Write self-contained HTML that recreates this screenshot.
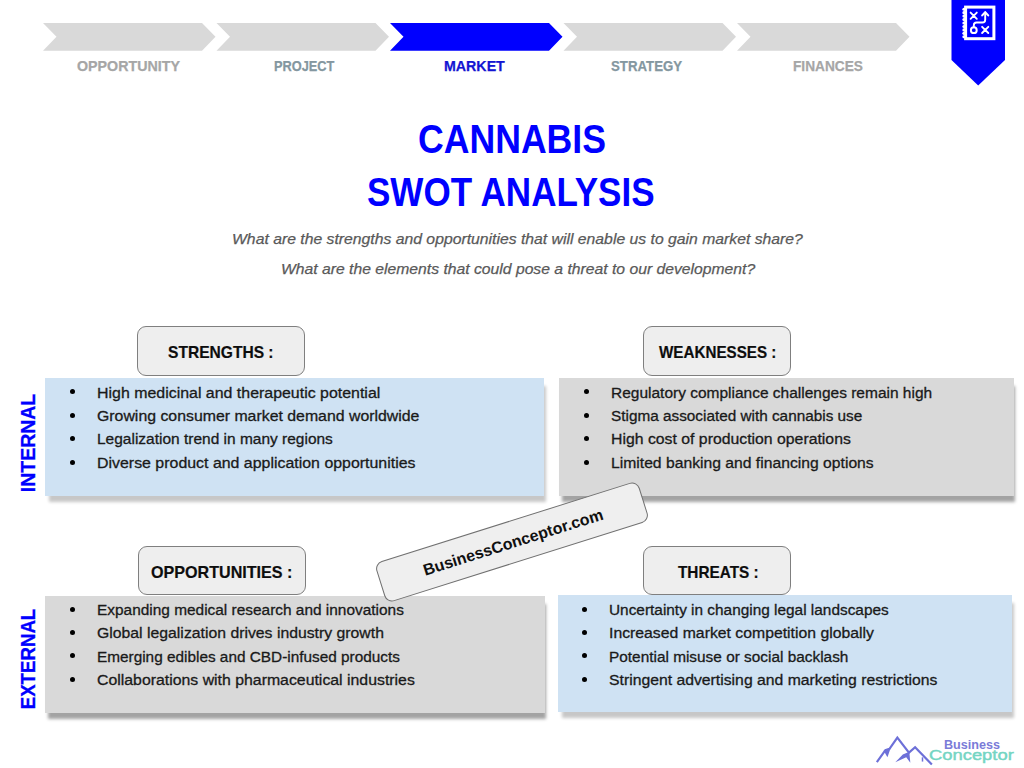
<!DOCTYPE html>
<html><head><meta charset="utf-8"><title>Cannabis SWOT Analysis</title>
<style>
html,body{margin:0;padding:0;background:#fff;}
body{width:1024px;height:768px;position:relative;overflow:hidden;font-family:"Liberation Sans",sans-serif;}
.t{position:absolute;white-space:nowrap;line-height:1;transform-origin:0 0;font-family:"Liberation Sans",sans-serif;}
.box{position:absolute;}
.hd{position:absolute;box-sizing:border-box;background:#eeeeee;border:1.3px solid #7f7f7f;border-radius:9px;}
.dot{position:absolute;width:5px;height:5px;border-radius:50%;background:#000;}
</style></head><body>

<svg width="1024" height="100" style="position:absolute;left:0;top:0"><polygon points="43,23.0 202.0,23.0 215.5,36.85 202.0,50.7 43,50.7 56.5,36.85" fill="#d9d9d9"/><polygon points="216.5,23.0 375.5,23.0 389.0,36.85 375.5,50.7 216.5,50.7 230.0,36.85" fill="#d9d9d9"/><polygon points="390,23.0 549.0,23.0 562.5,36.85 549.0,50.7 390,50.7 403.5,36.85" fill="#0000ff"/><polygon points="563.5,23.0 722.5,23.0 736.0,36.85 722.5,50.7 563.5,50.7 577.0,36.85" fill="#d9d9d9"/><polygon points="737,23.0 896.0,23.0 909.5,36.85 896.0,50.7 737,50.7 750.5,36.85" fill="#d9d9d9"/><polygon points="951.5,0 1005,0 1005,60 978.2,85.5 951.5,60" fill="#0000ff"/></svg>
<div class="box" style="left:45.2px;top:378px;width:499.2px;height:117.80000000000001px;background:#cfe2f3;box-shadow:3px 7px 3px -1px rgba(0,0,0,0.22)"></div>
<div class="box" style="left:559.2px;top:378px;width:455.19999999999993px;height:117.80000000000001px;background:#d9d9d9;box-shadow:2px 7px 3px -1px rgba(0,0,0,0.36)"></div>
<div class="box" style="left:44.8px;top:595.6px;width:500.2px;height:117.39999999999998px;background:#d9d9d9;box-shadow:2px 7px 3px -1px rgba(0,0,0,0.36)"></div>
<div class="box" style="left:557.9px;top:595.4px;width:454.1px;height:117.0px;background:#cfe2f3;box-shadow:3px 7px 3px -1px rgba(0,0,0,0.22)"></div>
<div class="hd" style="left:137.2px;top:326.3px;width:168.3px;height:49.599999999999966px"></div>
<div class="hd" style="left:642.7px;top:326.3px;width:148.0px;height:49.599999999999966px"></div>
<div class="hd" style="left:137.6px;top:545.7px;width:168.29999999999998px;height:49.5px"></div>
<div class="hd" style="left:643.3px;top:545.5px;width:148.20000000000005px;height:49.700000000000045px"></div>
<div class="dot" style="left:69.70px;top:389.30px"></div>
<div class="dot" style="left:69.70px;top:412.73px"></div>
<div class="dot" style="left:69.70px;top:436.16px"></div>
<div class="dot" style="left:69.70px;top:459.59px"></div>
<div class="dot" style="left:583.50px;top:389.30px"></div>
<div class="dot" style="left:583.50px;top:412.73px"></div>
<div class="dot" style="left:583.50px;top:436.16px"></div>
<div class="dot" style="left:583.50px;top:459.59px"></div>
<div class="dot" style="left:69.70px;top:606.50px"></div>
<div class="dot" style="left:69.70px;top:629.93px"></div>
<div class="dot" style="left:69.70px;top:653.36px"></div>
<div class="dot" style="left:69.70px;top:676.79px"></div>
<div class="dot" style="left:582.00px;top:606.50px"></div>
<div class="dot" style="left:582.00px;top:629.93px"></div>
<div class="dot" style="left:582.00px;top:653.36px"></div>
<div class="dot" style="left:582.00px;top:676.79px"></div>
<div class="t" style="left:77.35px;top:58.2px;font-size:15px;font-weight:bold;font-style:normal;color:#a6a6a6;transform:scaleX(0.9505);-webkit-text-stroke:0.25px #a6a6a6">OPPORTUNITY</div>
<div class="t" style="left:274.35px;top:58.0px;font-size:15px;font-weight:bold;font-style:normal;color:#8497a0;transform:scaleX(0.8529);-webkit-text-stroke:0.25px #8497a0">PROJECT</div>
<div class="t" style="left:444.35px;top:58.0px;font-size:15px;font-weight:bold;font-style:normal;color:#1414d2;transform:scaleX(0.9476);-webkit-text-stroke:0.25px #1414d2">MARKET</div>
<div class="t" style="left:611.42px;top:58.0px;font-size:15px;font-weight:bold;font-style:normal;color:#8497a0;transform:scaleX(0.8823);-webkit-text-stroke:0.25px #8497a0">STRATEGY</div>
<div class="t" style="left:793.19px;top:58.0px;font-size:15px;font-weight:bold;font-style:normal;color:#a6a6a6;transform:scaleX(0.912);-webkit-text-stroke:0.25px #a6a6a6">FINANCES</div>
<div class="t" style="left:417.92px;top:119.3px;font-size:40px;font-weight:bold;font-style:normal;color:#0000ff;transform:scaleX(0.8904);-webkit-text-stroke:0px #0000ff">CANNABIS</div>
<div class="t" style="left:366.82px;top:171.5px;font-size:40px;font-weight:bold;font-style:normal;color:#0000ff;transform:scaleX(0.8761);-webkit-text-stroke:0px #0000ff">SWOT ANALYSIS</div>
<div class="t" style="left:232.28px;top:231.0px;font-size:15.5px;font-weight:normal;font-style:italic;color:#595959;transform:scaleX(1.0162);-webkit-text-stroke:0.25px #595959">What are the strengths and opportunities that will enable us to gain market share?</div>
<div class="t" style="left:280.69px;top:261.2px;font-size:15.5px;font-weight:normal;font-style:italic;color:#595959;transform:scaleX(1.0135);-webkit-text-stroke:0.25px #595959">What are the elements that could pose a threat to our development?</div>
<div class="t" style="left:167.88px;top:344.4px;font-size:17px;font-weight:bold;font-style:normal;color:#0d0d0d;transform:scaleX(0.9159);-webkit-text-stroke:0.2px #0d0d0d">STRENGTHS :</div>
<div class="t" style="left:659.3px;top:344.4px;font-size:17px;font-weight:bold;font-style:normal;color:#0d0d0d;transform:scaleX(0.8938);-webkit-text-stroke:0.2px #0d0d0d">WEAKNESSES :</div>
<div class="t" style="left:151.25px;top:563.6px;font-size:17px;font-weight:bold;font-style:normal;color:#0d0d0d;transform:scaleX(0.9476);-webkit-text-stroke:0.2px #0d0d0d">OPPORTUNITIES :</div>
<div class="t" style="left:677.9px;top:563.6px;font-size:17px;font-weight:bold;font-style:normal;color:#0d0d0d;transform:scaleX(0.9023);-webkit-text-stroke:0.2px #0d0d0d">THREATS :</div>
<div class="t" style="left:96.95px;top:384.6px;font-size:15.2px;font-weight:normal;font-style:normal;color:#1a1a1a;transform:scaleX(1.0485);-webkit-text-stroke:0.3px #1a1a1a">High medicinal and therapeutic potential</div>
<div class="t" style="left:96.96px;top:408.03px;font-size:15.2px;font-weight:normal;font-style:normal;color:#1a1a1a;transform:scaleX(1.0436);-webkit-text-stroke:0.3px #1a1a1a">Growing consumer market demand worldwide</div>
<div class="t" style="left:96.98px;top:431.46px;font-size:15.2px;font-weight:normal;font-style:normal;color:#1a1a1a;transform:scaleX(1.0196);-webkit-text-stroke:0.3px #1a1a1a">Legalization trend in many regions</div>
<div class="t" style="left:96.95px;top:454.89px;font-size:15.2px;font-weight:normal;font-style:normal;color:#1a1a1a;transform:scaleX(1.048);-webkit-text-stroke:0.3px #1a1a1a">Diverse product and application opportunities</div>
<div class="t" style="left:611.18px;top:384.6px;font-size:15.2px;font-weight:normal;font-style:normal;color:#1a1a1a;transform:scaleX(1.0198);-webkit-text-stroke:0.3px #1a1a1a">Regulatory compliance challenges remain high</div>
<div class="t" style="left:611.19px;top:408.03px;font-size:15.2px;font-weight:normal;font-style:normal;color:#1a1a1a;transform:scaleX(1.0089);-webkit-text-stroke:0.3px #1a1a1a">Stigma associated with cannabis use</div>
<div class="t" style="left:611.16px;top:431.46px;font-size:15.2px;font-weight:normal;font-style:normal;color:#1a1a1a;transform:scaleX(1.0406);-webkit-text-stroke:0.3px #1a1a1a">High cost of production operations</div>
<div class="t" style="left:611.17px;top:454.89px;font-size:15.2px;font-weight:normal;font-style:normal;color:#1a1a1a;transform:scaleX(1.0336);-webkit-text-stroke:0.3px #1a1a1a">Limited banking and financing options</div>
<div class="t" style="left:96.98px;top:601.8px;font-size:15.2px;font-weight:normal;font-style:normal;color:#1a1a1a;transform:scaleX(1.0153);-webkit-text-stroke:0.3px #1a1a1a">Expanding medical research and innovations</div>
<div class="t" style="left:96.96px;top:625.23px;font-size:15.2px;font-weight:normal;font-style:normal;color:#1a1a1a;transform:scaleX(1.0394);-webkit-text-stroke:0.3px #1a1a1a">Global legalization drives industry growth</div>
<div class="t" style="left:96.99px;top:648.66px;font-size:15.2px;font-weight:normal;font-style:normal;color:#1a1a1a;transform:scaleX(1.0107);-webkit-text-stroke:0.3px #1a1a1a">Emerging edibles and CBD-infused products</div>
<div class="t" style="left:96.96px;top:672.09px;font-size:15.2px;font-weight:normal;font-style:normal;color:#1a1a1a;transform:scaleX(1.0429);-webkit-text-stroke:0.3px #1a1a1a">Collaborations with pharmaceutical industries</div>
<div class="t" style="left:609.19px;top:602.0px;font-size:15.2px;font-weight:normal;font-style:normal;color:#1a1a1a;transform:scaleX(1.0131);-webkit-text-stroke:0.3px #1a1a1a">Uncertainty in changing legal landscapes</div>
<div class="t" style="left:609.16px;top:625.43px;font-size:15.2px;font-weight:normal;font-style:normal;color:#1a1a1a;transform:scaleX(1.0394);-webkit-text-stroke:0.3px #1a1a1a">Increased market competition globally</div>
<div class="t" style="left:609.19px;top:648.86px;font-size:15.2px;font-weight:normal;font-style:normal;color:#1a1a1a;transform:scaleX(1.0128);-webkit-text-stroke:0.3px #1a1a1a">Potential misuse or social backlash</div>
<div class="t" style="left:609.16px;top:672.29px;font-size:15.2px;font-weight:normal;font-style:normal;color:#1a1a1a;transform:scaleX(1.0375);-webkit-text-stroke:0.3px #1a1a1a">Stringent advertising and marketing restrictions</div>
<div class="t" style="left:943.88px;top:738.9px;font-size:12.3px;font-weight:bold;font-style:normal;color:#7a7bd8;transform:scaleX(1.0245);-webkit-text-stroke:0px #7a7bd8">Business</div>
<div class="t" style="left:929.41px;top:746.6px;font-size:15.5px;font-weight:normal;font-style:normal;color:#74d5c3;transform:scaleX(1.1857);-webkit-text-stroke:0.45px #74d5c3">Conceptor</div>
<div class="t" style="left:27.8px;top:442.5px;font-size:20.5px;font-weight:bold;color:#0000ff;transform-origin:50% 50%;transform:translate(-50%,-50%) rotate(-90deg) scaleX(0.95);-webkit-text-stroke:0.3px #0000ff">INTERNAL</div>
<div class="t" style="left:27.8px;top:658.6px;font-size:20.5px;font-weight:bold;color:#0000ff;transform-origin:50% 50%;transform:translate(-50%,-50%) rotate(-90deg) scaleX(0.91);-webkit-text-stroke:0.3px #0000ff">EXTERNAL</div>
<div style="position:absolute;left:512px;top:541.8px;width:0;height:0"><div style="position:absolute;left:-138px;top:-21px;width:276px;height:42px;box-sizing:border-box;background:#efefef;border:1.2px solid #707070;border-radius:8px;transform:rotate(-17.5deg);display:flex;align-items:center;justify-content:center;padding:2px 0 0 2px;font-family:'Liberation Sans',sans-serif;font-weight:bold;font-size:16px;color:#111">BusinessConceptor.com</div></div>
<svg width="70" height="38" viewBox="0 0 1024 556" style="position:absolute;left:870px;top:730px">
<g fill="#6d70d8" stroke="#6d70d8" stroke-width="32" stroke-linejoin="miter" stroke-miterlimit="10">
<path fill="none" d="M100,470 L225,295 L285,275 L400,112 L570,330 L660,252 L905,505"/>
<path stroke="none" d="M200,305 L305,255 L255,400 Z"/>
<path stroke="none" d="M370,472 L480,358 L575,318 L590,480 L530,400 Z"/>
<path fill="none" stroke-width="22" d="M768,400 L768,462"/>
</g></svg>
<svg width="60" height="50" viewBox="950 0 60 50" style="position:absolute;left:950px;top:0px">
<g fill="none" stroke="#fff" stroke-linecap="round" stroke-linejoin="round">
<rect x="965.6" y="7.1" width="28.3" height="31.6" stroke-width="3" stroke-linejoin="miter"/>
<circle cx="963.9" cy="9.20" r="1.55" fill="#fff" stroke="none"/><circle cx="963.9" cy="12.65" r="1.55" fill="#fff" stroke="none"/><circle cx="963.9" cy="16.10" r="1.55" fill="#fff" stroke="none"/><circle cx="963.9" cy="19.55" r="1.55" fill="#fff" stroke="none"/><circle cx="963.9" cy="23.00" r="1.55" fill="#fff" stroke="none"/><circle cx="963.9" cy="26.45" r="1.55" fill="#fff" stroke="none"/><circle cx="963.9" cy="29.90" r="1.55" fill="#fff" stroke="none"/><circle cx="963.9" cy="33.35" r="1.55" fill="#fff" stroke="none"/><circle cx="963.9" cy="36.80" r="1.55" fill="#fff" stroke="none"/>
<path d="M970.6,12.6 l6.2,6.2 M976.8,12.6 l-6.2,6.2" stroke-width="1.9"/>
<path d="M982.1,26.8 l6.2,6.2 M988.3,26.8 l-6.2,6.2" stroke-width="1.9"/>
<circle cx="973.8" cy="30.2" r="2.9" stroke-width="2"/>
<path d="M973.8,27.3 v-2 q0,-2.8 2.8,-2.8 h5.8 q2.8,0 2.8,-2.8 v-7" stroke-width="1.9"/>
<path d="M982.2,15.4 l3,-3.3 l3,3.3" stroke-width="2.1"/>
</g></svg>
</body></html>
